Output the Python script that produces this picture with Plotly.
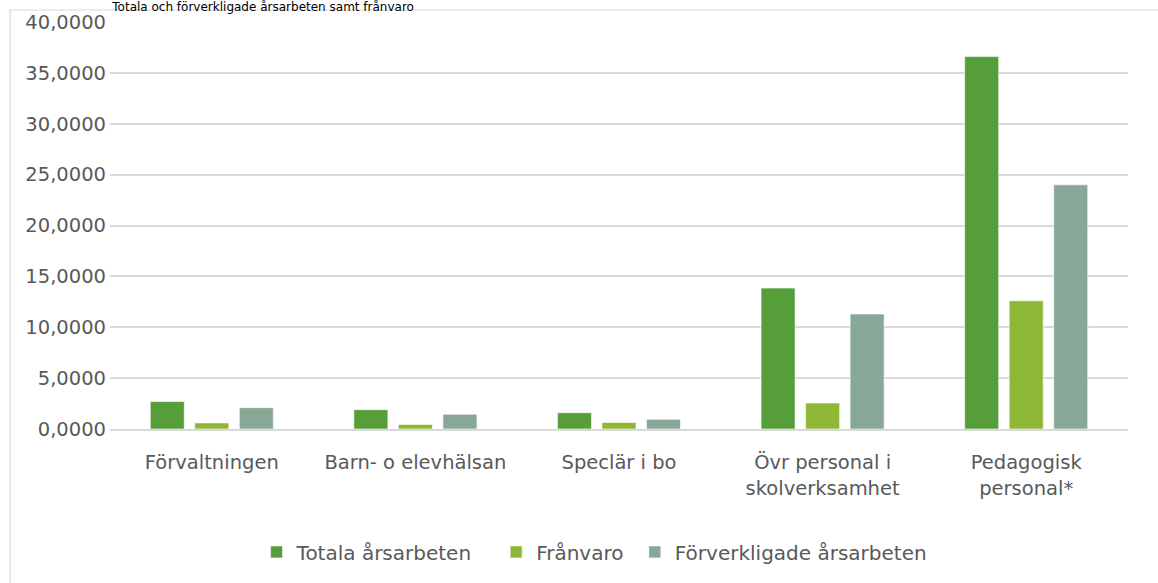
import plotly.graph_objects as go

categories = ["Förvaltningen", "Barn- o elevhälsan", "Speclär i bo",
              "Övr personal i<br>skolverksamhet", "Pedagogisk<br>personal*"]
totala = [2.70, 1.90, 1.60, 13.85, 36.60]
franvaro = [0.60, 0.45, 0.65, 2.55, 12.60]
forverkligade = [2.10, 1.45, 0.95, 11.30, 24.00]
series_names = ["Totala årsarbeten", "Frånvaro", "Förverkligade årsarbeten"]
colors = ["#559E3A", "#8DB734", "#88A796"]
title_text = "Totala och förverkligade årsarbeten samt frånvaro"

FONT = "DejaVu Sans"
PAD = "\u00a0\u00a0\u00a0"
fig = go.Figure()
for i, (name, vals, col) in enumerate(zip(series_names, [totala, franvaro, forverkligade], colors)):
    fig.add_trace(go.Bar(x=categories, y=vals, name=name + (PAD if i == 0 else ("\u00a0" if i == 1 else "")),
                         marker=dict(color=col, line=dict(color="rgba(255,255,255,0.6)", width=1))))

fig.update_layout(
    width=1158, height=583,
    margin=dict(l=110, r=30, t=22, b=154, autoexpand=False),
    paper_bgcolor="white", plot_bgcolor="white",
    separators=", ",
    barmode="group", bargap=0.344, bargroupgap=0.236,
    font=dict(family=FONT, size=19, color="#595959"),
    title=dict(text=title_text, x=0.097, xanchor="left", y=0.996, yanchor="top",
               yref="container", pad=dict(t=0, b=0, l=0, r=0), automargin=False,
               font=dict(family=FONT, size=12, color="#000000")),
    showlegend=True,
    legend=dict(orientation="h", x=0.476, xanchor="center", y=-0.302, yanchor="middle",
                font=dict(family=FONT, size=20, color="#595959"),
                itemwidth=30, tracegroupgap=0),
    xaxis=dict(showgrid=False, showline=True, linecolor="#D9D9D9", linewidth=1.5,
               ticks="", ticklabelstandoff=15, automargin=False,
               tickfont=dict(size=19.5, color="#595959")),
    yaxis=dict(range=[0, 40], dtick=5, tickformat=".4f", showgrid=True,
               gridcolor="#D9D9D9", gridwidth=1.5, zeroline=False, automargin=False,
               showline=False, ticks="", ticklabelstandoff=3,
               tickfont=dict(size=19.5, color="#595959")),
    shapes=[dict(type="rect", xref="paper", yref="paper",
                 x0=-0.0982, x1=1.05, y0=-0.40, y1=1.0295,
                 line=dict(color="#D9D9D9", width=1.2), layer="below")],
)

fig.write_html("out.html", config={"displayModeBar": False},
               post_script="document.body.style.margin='0px';")
